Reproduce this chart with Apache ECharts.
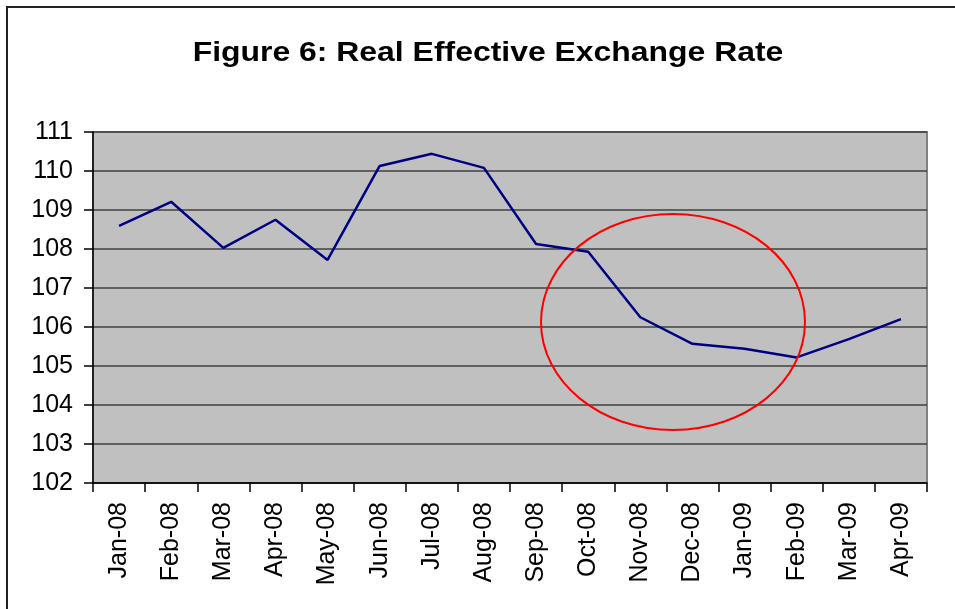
<!DOCTYPE html>
<html>
<head>
<meta charset="utf-8">
<script src="https://cdn.jsdelivr.net/npm/echarts@6/dist/echarts.min.js"></script>
<style>
html,body{margin:0;padding:0;background:#fff;}
#chart{width:955px;height:609px;}
</style>
</head>
<body>
<div id="chart"></div>
<script>
var titleText = 'Figure 6: Real Effective Exchange Rate';
var categories = ['Jan-08','Feb-08','Mar-08','Apr-08','May-08','Jun-08','Jul-08','Aug-08',
                  'Sep-08','Oct-08','Nov-08','Dec-08','Jan-09','Feb-09','Mar-09','Apr-09'];
var reerValues = [108.59,109.21,108.03,108.75,107.72,110.13,110.44,110.08,
                  108.13,107.93,106.25,105.57,105.44,105.22,105.69,106.2];
var yMin = 102, yMax = 111, yStep = 1;

var chart = echarts.init(document.getElementById('chart'), null, {renderer:'canvas'});
var font = '"Liberation Sans", Arial, sans-serif';
chart.setOption({
  animation: false,
  backgroundColor: '#ffffff',
  grid: {left: 93, right: 28, top: 132, bottom: 126, show: true,
         backgroundColor: '#c0c0c0', borderColor: '#808080', borderWidth: 2},
  xAxis: {
    type: 'category', data: categories, boundaryGap: true,
    axisLine: {show: true, lineStyle: {color: '#000', width: 1.5}},
    axisTick: {show: true, length: 9, inside: false, lineStyle: {color: '#000', width: 1.5}},
    axisLabel: {rotate: 90, interval: 0, margin: 19, fontFamily: font, fontSize: 25, color: '#000'},
    splitLine: {show: false}
  },
  yAxis: {
    type: 'value', min: yMin, max: yMax, interval: yStep,
    axisLine: {show: true, lineStyle: {color: '#000', width: 1.5}},
    axisTick: {show: true, length: 9, inside: false, lineStyle: {color: '#000', width: 1.5}},
    axisLabel: {margin: 20, fontFamily: font, fontSize: 25, color: '#000'},
    splitLine: {show: true, lineStyle: {color: '#404040', width: 1.5}}
  },
  series: [{
    type: 'line', data: reerValues, symbol: 'none',
    lineStyle: {color: '#000080', width: 2.5}
  }],
  graphic: [
    {type: 'text', x: 488, y: 53, scaleX: 1.14, scaleY: 1,
     style: {text: titleText, fill: '#000', font: 'bold 28px "Liberation Sans", Arial, sans-serif',
             textAlign: 'center', textVerticalAlign: 'middle'}, z: 100},
    {type: 'rect', shape: {x: 7, y: 7, width: 1000, height: 1000},
     style: {fill: 'none', stroke: '#222', lineWidth: 2}, z: 100},
    {type: 'ellipse', shape: {cx: 673, cy: 322, rx: 132, ry: 108},
     style: {fill: 'none', stroke: '#ff0000', lineWidth: 2}, z: 100}
  ]
});
</script>
</body>
</html>
